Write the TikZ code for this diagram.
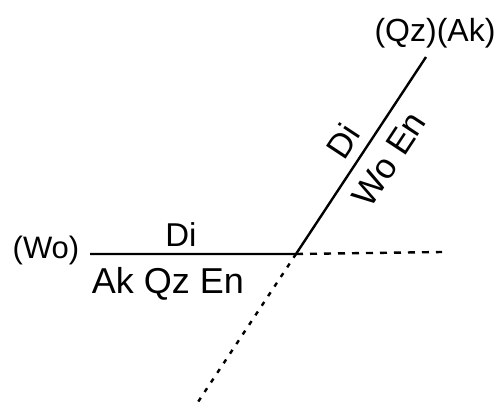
\documentclass[tikz,border=0pt]{standalone}
\usepackage{fontspec}
\setmainfont{Liberation Sans}
\begin{document}
\begin{tikzpicture}[x=1pt,y=1pt,
  solidline/.style={line width=2.4pt},
  dashline/.style={line width=2.4pt, dash pattern=on 7pt off 7pt},
  dotline/.style={line width=2.4pt, dash pattern=on 4.5pt off 7pt},
  lbl/.style={inner sep=0pt}]
\useasboundingbox (0,0) rectangle (498,408);
\coordinate (J) at (296,154);
\coordinate (L) at (90,154);
\coordinate (T) at (426,351);
\coordinate (R) at (442,156);
\coordinate (B) at (196,3);
\draw[solidline] (L) -- (J) -- (T);
\draw[dashline] (J) -- (R);
\draw[dotline] (J) -- (B);
\node[lbl, font=\fontsize{31}{36}\selectfont] (wo) at (46,158) {(Wo)};
\node[lbl, font=\fontsize{33}{38}\selectfont] (di1) at (181,173) {Di};
\node[lbl, font=\fontsize{36}{42}\selectfont] (akqzen) at (168,124) {Ak Qz En};
\node[lbl, font=\fontsize{32}{38}\selectfont] (qzak) at (435,375) {(Qz)(Ak)};
\node[lbl, rotate=56.6, font=\fontsize{34}{40}\selectfont] (di2) at (343,267) {Di};
\node[lbl, rotate=56.6, font=\fontsize{35}{40}\selectfont] (woen) at (389,249) {Wo En};
\end{tikzpicture}
\end{document}
